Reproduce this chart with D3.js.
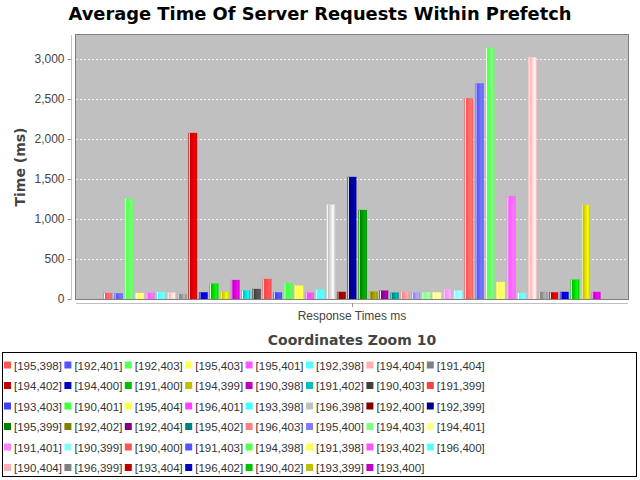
<!DOCTYPE html>
<html><head><meta charset="utf-8">
<script src="https://cdn.jsdelivr.net/npm/d3@7"></script>
<style>body{margin:0;background:#fff;} svg{display:block;}</style>
</head><body>
<svg id="chart" width="640" height="480"></svg>
<script>
const seriesNames = [
 "[195,398]","[192,401]","[192,403]","[195,403]","[195,401]","[192,398]","[194,404]","[191,404]",
 "[194,402]","[194,400]","[191,400]","[194,399]","[190,398]","[191,402]","[190,403]","[191,399]",
 "[193,403]","[190,401]","[195,404]","[196,401]","[193,398]","[196,398]","[192,400]","[192,399]",
 "[195,399]","[192,402]","[192,404]","[195,402]","[196,403]","[195,400]","[194,403]","[194,401]",
 "[191,401]","[190,399]","[190,400]","[191,403]","[194,398]","[191,398]","[193,402]","[196,400]",
 "[190,404]","[196,399]","[193,404]","[196,402]","[190,402]","[193,399]","[193,400]"
];
const seriesValues = [
 75,71,1254,75,76,88,79,62,
 2075,83,192,88,237,108,125,250,
 83,200,167,79,117,1179,88,1525,
 1112,92,104,79,92,79,83,83,
 121,104,2510,2696,3141,212,1287,75,
 3021,88,83,88,242,1175,88
];
const category = "Response Times ms";
const yTicks = [0,500,1000,1500,2000,2500,3000];
const palette = [
 "#ff5555","#5555ff","#55ff55","#ffff55","#ff55ff","#55ffff","#ffafaf","#808080",
 "#c00000","#0000c0","#00c000","#c0c000","#c000c0","#00c0c0","#404040","#ff4040",
 "#4040ff","#40ff40","#ffff40","#ff40ff","#40ffff","#c0c0c0","#800000","#000080",
 "#008000","#808000","#800080","#008080","#ff8080","#8080ff","#80ff80","#ffff80",
 "#ff80ff","#80ffff"
];
const titleText = "Average Time Of Server Requests Within Prefetch";
const subtitleText = "Coordinates Zoom 10";
const yLabel = "Time (ms)";

const svg = d3.select("#chart");
const font = "'Liberation Sans', Arial, sans-serif";
const plot = {l:76, r:628, t:35, b:299};

// brighter like Java Color.brighter
function brighter(hex){
  const c = d3.rgb(hex); let r=c.r,g=c.g,b=c.b;
  const i = 3;
  if(r===0&&g===0&&b===0) return d3.rgb(i,i,i).formatHex();
  if(r>0&&r<i) r=i; if(g>0&&g<i) g=i; if(b>0&&b<i) b=i;
  return d3.rgb(Math.min(255,r/0.7),Math.min(255,g/0.7),Math.min(255,b/0.7)).formatHex();
}
const defs = svg.append("defs");
palette.forEach((c,i)=>{
  const g = defs.append("linearGradient").attr("id","g"+i).attr("x1","0").attr("x2","1").attr("y1","0").attr("y2","0");
  [[0,c],[0.1,"#ffffff"],[0.2,c],[0.8,brighter(c)],[1,c]].forEach(s=>g.append("stop").attr("offset",s[0]).attr("stop-color",s[1]));
});

// title
svg.append("text").attr("x",320).attr("y",20).attr("text-anchor","middle")
  .attr("font-family","'DejaVu Sans', sans-serif").attr("font-weight","bold").attr("font-size",18)
  .attr("textLength",503).attr("lengthAdjust","spacingAndGlyphs").attr("fill","#000").text(titleText);

// plot background
svg.append("rect").attr("x",plot.l).attr("y",plot.t).attr("width",plot.r-plot.l).attr("height",plot.b-plot.t).attr("fill","#c0c0c0");

const y = d3.scaleLinear().domain([0,3300]).range([plot.b, plot.t]);
const span = plot.r-plot.l;
const x = d3.scaleBand().domain(d3.range(seriesNames.length))
  .range([plot.l+span*0.05, plot.r-span*0.05]).paddingInner(0.203).paddingOuter(0);

// gridlines
svg.append("g").selectAll("line").data(yTicks.filter(d=>d>0)).join("line")
  .attr("x1",plot.l).attr("x2",plot.r).attr("y1",d=>Math.round(y(d))+0.5).attr("y2",d=>Math.round(y(d))+0.5)
  .attr("stroke","#ffffff").attr("stroke-width",0.8).attr("stroke-dasharray","2,2");

// bars
svg.append("g").selectAll("rect").data(seriesValues).join("rect")
  .attr("x",(d,i)=>x(i)).attr("width",x.bandwidth())
  .attr("y",d=>y(d)).attr("height",d=>plot.b-y(d))
  .attr("fill",(d,i)=>`url(#g${i%palette.length})`)
  .attr("stroke",(d,i)=>d3.rgb(palette[i%palette.length]).brighter(0.6).formatHex()).attr("stroke-opacity",0.5).attr("stroke-width",0.6);

// plot outline
svg.append("rect").attr("x",plot.l-0.5).attr("y",plot.t-0.5).attr("width",plot.r-plot.l+1).attr("height",plot.b-plot.t+1)
  .attr("fill","none").attr("stroke","#808080").attr("stroke-width",1);

// y axis
const yAxis = d3.axisLeft(y).tickValues(yTicks).tickFormat(d3.format(",")).tickSize(4).tickPadding(3);
const ya = svg.append("g").attr("transform",`translate(71.5,0)`).call(yAxis);
ya.select(".domain").attr("stroke","#c0c0c0").attr("d",`M0,${plot.t}V${plot.b}`);
ya.selectAll(".tick line").attr("stroke","#999");
ya.selectAll(".tick text").attr("font-family",font).attr("font-size",12).attr("fill","#444");

// x axis
const xa = svg.append("g");
xa.append("line").attr("x1",plot.l).attr("x2",plot.r).attr("y1",303.5).attr("y2",303.5).attr("stroke","#c0c0c0");
xa.append("line").attr("x1",(plot.l+plot.r)/2+0.5).attr("x2",(plot.l+plot.r)/2+0.5).attr("y1",303).attr("y2",307).attr("stroke","#999");
xa.append("text").attr("x",(plot.l+plot.r)/2).attr("y",320).attr("text-anchor","middle")
  .attr("font-family",font).attr("font-size",12).attr("fill","#444").text(category);

// y label
svg.append("text").attr("transform",`translate(25,${(plot.t+plot.b)/2}) rotate(-90)`).attr("text-anchor","middle")
  .attr("font-family","'DejaVu Sans', sans-serif").attr("font-size",14).attr("font-weight","bold").attr("fill","#444").text(yLabel);

// subtitle
svg.append("text").attr("x",352).attr("y",345).attr("text-anchor","middle")
  .attr("font-family","'DejaVu Sans', sans-serif").attr("font-weight","bold").attr("font-size",14).attr("fill","#444").text(subtitleText);

// legend
svg.append("rect").attr("x",2.5).attr("y",352.5).attr("width",634).attr("height",124).attr("fill","#fff").attr("stroke","#000");
const leg = svg.append("g").selectAll("g").data(seriesNames).join("g")
  .attr("transform",(d,i)=>`translate(${4+(i%8)*60.4},${365+Math.floor(i/8)*20.5})`);
leg.append("rect").attr("x",0).attr("y",-3.5).attr("width",7).attr("height",7).attr("fill",(d,i)=>palette[i%palette.length]);
leg.append("text").attr("x",10).attr("y",4.5).attr("font-family",font).attr("font-size",11.5).attr("fill","#333").text(d=>d);
</script>
</body></html>
